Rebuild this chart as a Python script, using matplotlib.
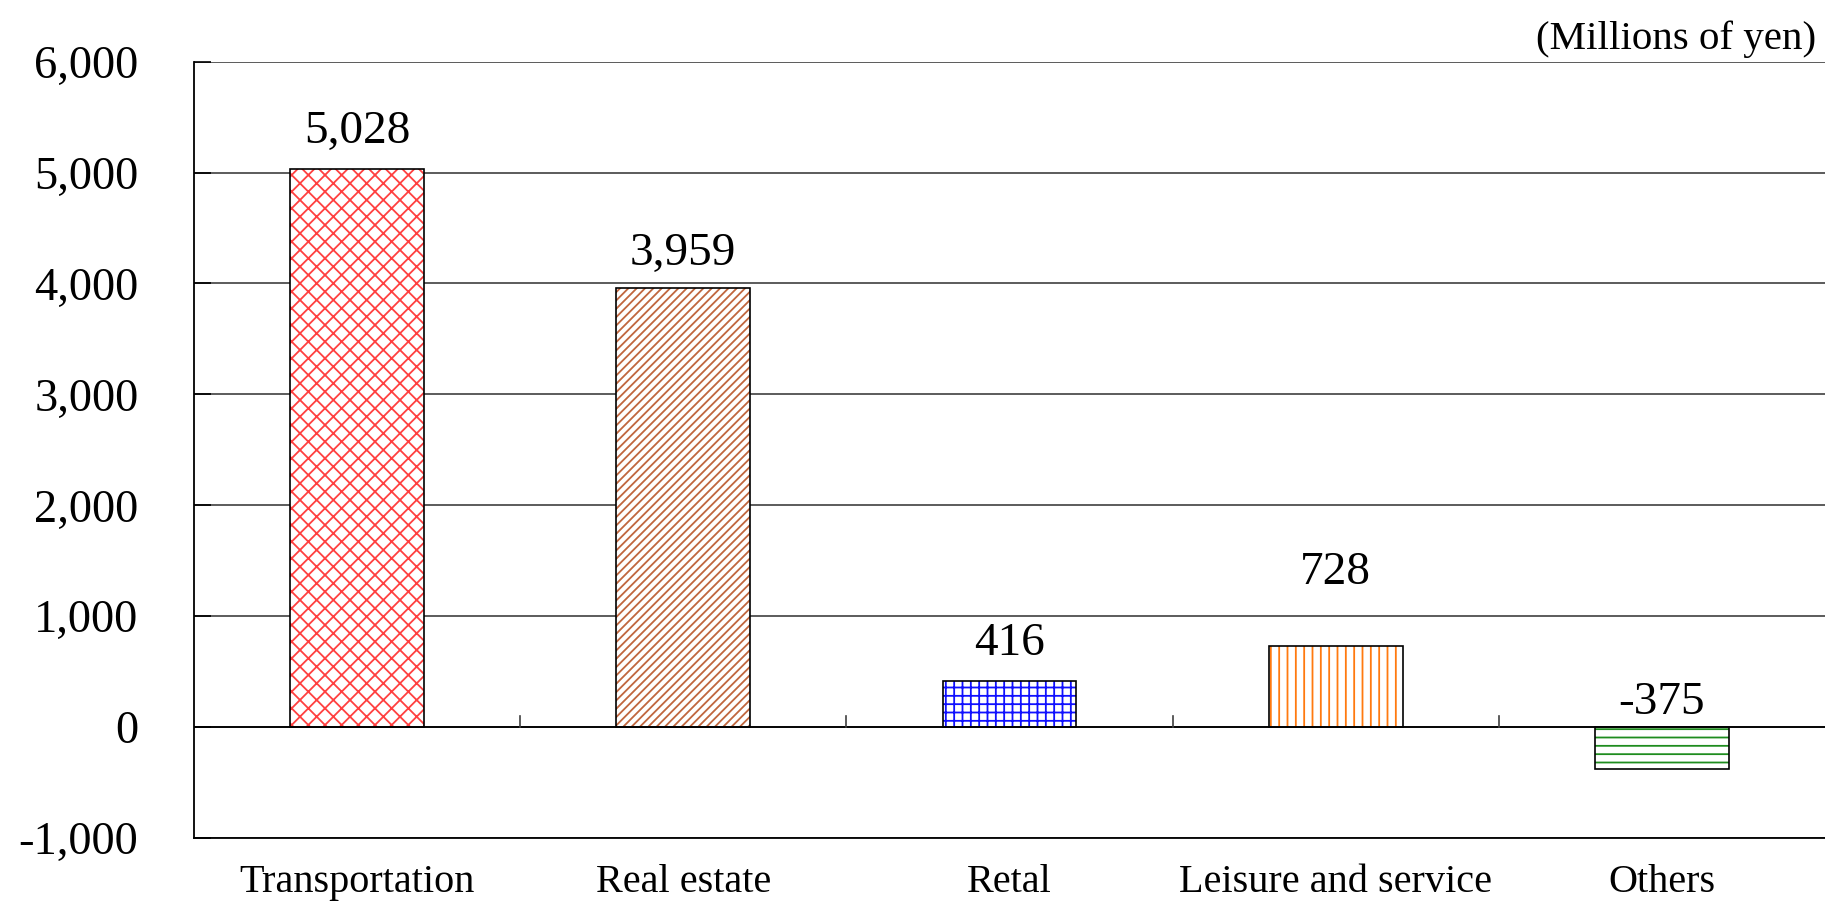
import numpy as np
import matplotlib
matplotlib.use("Agg")
import matplotlib.pyplot as plt

plt.rcParams['font.family'] = ['Liberation Serif', 'DejaVu Serif']
plt.rcParams['hatch.linewidth'] = 1.3

# operating income by segment
segments = ['Transportation', 'Real estate', 'Retal', 'Leisure and service', 'Others']
income = [5028, 3959, 416, 728, -375]
hatch_colors = ['#ff4040', '#c0663e', '#1010ff', '#ff7a10', '#1e8c1e']
hatches = ['xx', '////', '++', '||', '--']
label_pad = [340, 310, 340, 660, 220]

fig = plt.figure(figsize=(18.25, 9.06), dpi=100)
ax = fig.add_axes([0.1063, 0.075, 0.8937, 0.857])

x = np.arange(len(segments))
width = 0.41

ax.set_axisbelow(True)
ax.bar(x, income, width, color='white', edgecolor=hatch_colors, hatch=hatches,
       linewidth=0, zorder=2)
ax.bar(x, income, width, fill=False, edgecolor='black', linewidth=1.2, zorder=3)

for xi, v, pad in zip(x, income, label_pad):
    ax.text(xi, max(v, 0) + pad, f'{v:,}', ha='center', va='center', fontsize=34)

# zero line with small category separators
ax.axhline(0, color='black', lw=1.3, zorder=4)
for b in x[:-1] + 0.5:
    ax.plot([b, b], [0, 100], color='#404040', lw=1.2, zorder=4)

ax.set_xlim(-0.5, len(segments) - 0.5)
ax.set_ylim(-1000, 6000)
ax.set_yticks(np.arange(-1000, 6001, 1000))
ax.set_yticklabels([f'{t:,}' for t in range(-1000, 6001, 1000)], fontsize=33.5)
ax.yaxis.grid(True, color='#404040', lw=1.2)
ax.tick_params(axis='y', direction='in', length=12, width=1.2, pad=40)

ax.set_xticks(x)
ax.set_xticklabels(segments, fontsize=29)
ax.tick_params(axis='x', length=0, pad=19)

ax.spines['right'].set_visible(False)
ax.spines['top'].set_visible(False)
for s in ('left', 'bottom'):
    ax.spines[s].set_linewidth(1.3)

fig.text(0.995, 0.957, '(Millions of yen)', ha='right', va='center', fontsize=29.5)

fig.savefig('out.png', dpi=100)
